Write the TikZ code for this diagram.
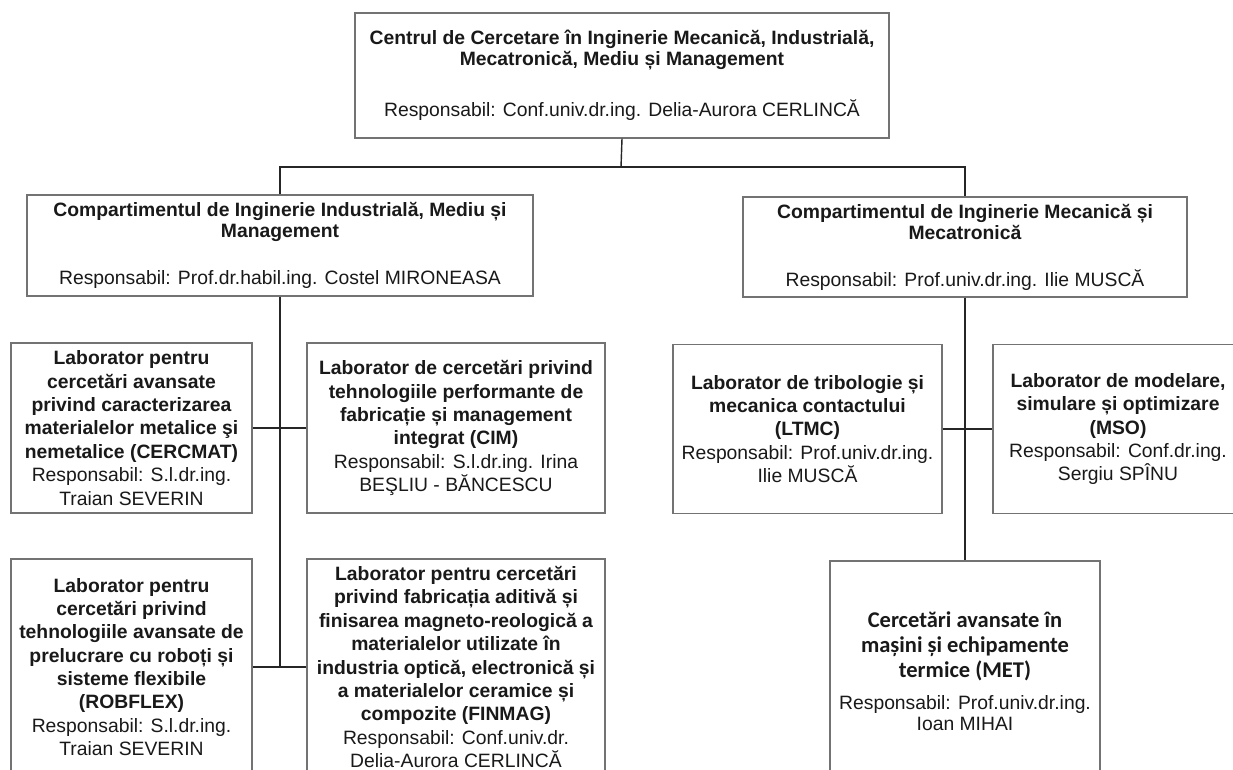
\documentclass[tikz,border=0pt]{standalone}
\usepackage{fontspec}
\setmainfont{Liberation Sans}
\newfontfamily\metfont{Carlito}
\newcommand{\mettitlu}[1]{{\metfont\bfseries\fontsize{12.8}{14.2}\selectfont #1}}

\begin{document}
\begin{tikzpicture}[x=0.02cm,y=-0.02cm,
		box/.style={draw=black!55,line width=0.7pt,align=center,inner sep=0pt,text=black!90},
		lab/.style={box,font=\fontsize{11}{13.3}\selectfont},
		head/.style={box,font=\fontsize{11}{12}\selectfont},
		link/.style={draw=black!85,line width=0.8pt}]
			\useasboundingbox (0,0) rectangle (1233,769);
			\clip (0,0) rectangle (1233,769);
			\fill[white] (0,0) rectangle (1233,769);
			% centru si compartimente
			\node[head,minimum width=10.68cm,minimum height=2.5cm] (centru) at (622,75.5) {\textbf{Centrul de Cercetare în Inginerie Mecanică, Industrială,}\\\textbf{Mecatronică, Mediu și Management}\\[16pt]Responsabil: Conf.univ.dr.ing. Delia-Aurora CERLINCĂ};
			\node[head,minimum width=10.12cm,minimum height=2.02cm] (cimm) at (280,245.5) {\textbf{Compartimentul de Inginerie Industrială, Mediu și}\\\textbf{Management}\\[14.7pt]Responsabil: Prof.dr.habil.ing. Costel MIRONEASA};
			\node[head,minimum width=8.88cm,minimum height=2cm] (cimt) at (965,247) {\textbf{Compartimentul de Inginerie Mecanică și}\\\textbf{Mecatronică}\\[14.7pt]Responsabil: Prof.univ.dr.ing. Ilie MUSCĂ};
			% laboratoare
			\node[lab,minimum width=4.82cm,minimum height=3.4cm] (cercmat) at (131.5,428) {\textbf{Laborator pentru}\\\textbf{cercetări avansate}\\\textbf{privind caracterizarea}\\\textbf{materialelor metalice şi}\\\textbf{nemetalice (CERCMAT)}\\Responsabil: S.l.dr.ing.\\Traian SEVERIN};
			\node[lab,minimum width=5.96cm,minimum height=3.4cm] (cim) at (456,428) {\textbf{Laborator de cercetări privind}\\\textbf{tehnologiile performante de}\\\textbf{fabricație și management}\\\textbf{integrat (CIM)}\\Responsabil: S.l.dr.ing. Irina\\BEŞLIU - BĂNCESCU};
			\node[lab,minimum width=4.82cm,minimum height=4.32cm] (robflex) at (131.5,667) {\textbf{Laborator pentru}\\\textbf{cercetări privind}\\\textbf{tehnologiile avansate de}\\\textbf{prelucrare cu roboți și}\\\textbf{sisteme flexibile}\\\textbf{(ROBFLEX)}\\Responsabil: S.l.dr.ing.\\Traian SEVERIN};
			\node[lab,minimum width=5.96cm,minimum height=4.32cm] (finmag) at (456,667) {\textbf{Laborator pentru cercetări}\\\textbf{privind fabricația aditivă și}\\\textbf{finisarea magneto-reologică a}\\\textbf{materialelor utilizate în}\\\textbf{industria optică, electronică și}\\\textbf{a materialelor ceramice și}\\\textbf{compozite (FINMAG)}\\Responsabil: Conf.univ.dr.\\Delia-Aurora CERLINCĂ};
			\node[lab,minimum width=5.38cm,minimum height=3.38cm] (ltmc) at (807.5,429) {\textbf{Laborator de tribologie și}\\\textbf{mecanica contactului}\\\textbf{(LTMC)}\\Responsabil: Prof.univ.dr.ing.\\Ilie MUSCĂ};
			\node[lab,minimum width=5cm,minimum height=3.38cm] (mso) at (1118,429) {\textbf{Laborator de modelare,}\\\textbf{simulare și optimizare}\\\textbf{(MSO)}\\Responsabil: Conf.dr.ing.\\Sergiu SPÎNU};
			\node[lab,font=\fontsize{11}{14.2}\selectfont,minimum width=5.4cm,minimum height=4.4cm] (met) at (965,671) {\mettitlu{Cercetări avansate în}\\\mettitlu{mașini și echipamente}\\\mettitlu{termice (MET)}\\[4pt]Responsabil: Prof.univ.dr.ing.\\[-2.2pt]Ioan MIHAI};
			% legaturi
			\coordinate (ramura) at (621,167);
			\coordinate (capst) at (280,667);
			\draw[link] (centru.south) -- (ramura);
			\draw[link] (cimm.north) |- (ramura) -| (cimt.north);
			\draw[link] (cimm.south) -- (capst);
			\draw[link] (cercmat.east) -- (cim.west);
			\draw[link] (robflex.east) -- (finmag.west);
			\draw[link] (cimt.south) -- (met.north);
			\draw[link] (ltmc.east) -- (mso.west);
		\end{tikzpicture}
\end{document}
